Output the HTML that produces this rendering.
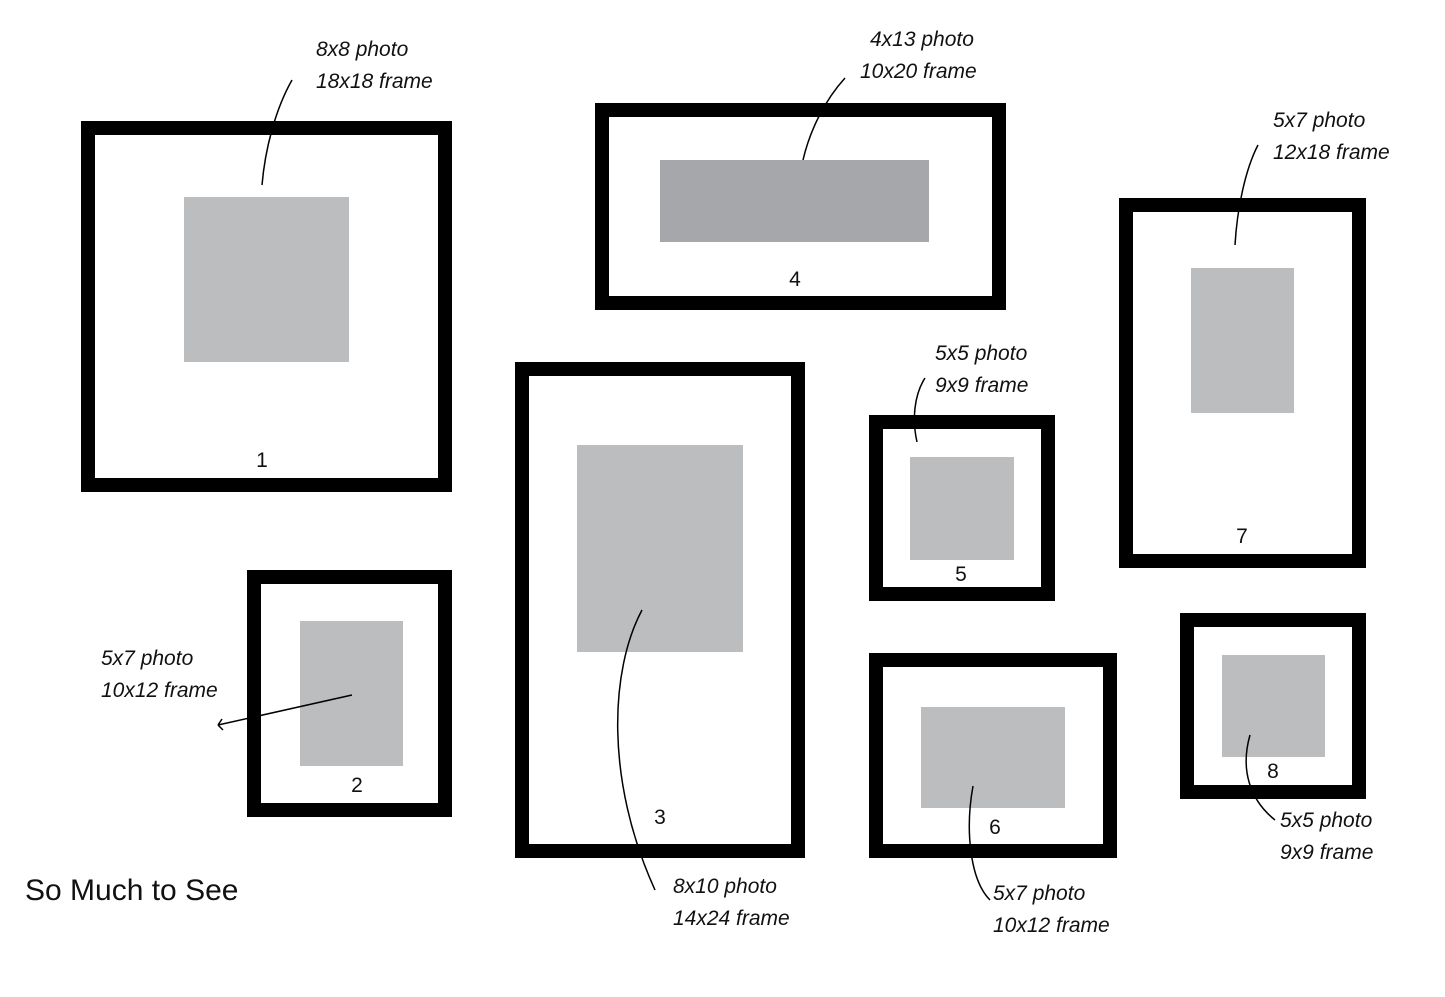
<!DOCTYPE html>
<html><head><meta charset="utf-8"><style>
html,body{margin:0;padding:0;background:#fff;}
svg{display:block}
text{font-family:"Liberation Sans","DejaVu Sans",sans-serif;font-style:italic;font-size:21px;fill:#111;}
.n{font-style:normal;font-size:21px;text-anchor:middle}
</style></head><body>
<svg width="1445" height="997" viewBox="0 0 1445 997" xmlns="http://www.w3.org/2000/svg">
<g fill="none" stroke="#000" stroke-width="14">
<rect x="88" y="128" width="357" height="357"/>
<rect x="602" y="110" width="397" height="193"/>
<rect x="1126" y="205" width="233" height="356"/>
<rect x="522" y="369" width="276" height="482"/>
<rect x="876" y="422" width="172" height="172"/>
<rect x="254" y="577" width="191" height="233"/>
<rect x="876" y="660" width="234" height="191"/>
<rect x="1187" y="620" width="172" height="172"/>
</g>
<g fill="#bcbdbf">
<rect x="184" y="197" width="165" height="165"/>
<rect x="660" y="160" width="269" height="82" fill="#a6a7aa"/>
<rect x="1191" y="268" width="103" height="145"/>
<rect x="577" y="445" width="166" height="207"/>
<rect x="910" y="457" width="104" height="103"/>
<rect x="300" y="621" width="103" height="145"/>
<rect x="921" y="707" width="144" height="101"/>
<rect x="1222" y="655" width="103" height="102"/>
</g>
<g fill="none" stroke="#000" stroke-width="1.5">
<path d="M292 80 C275 110 265 150 262 185"/>
<path d="M845 78 C825 100 810 130 803 160"/>
<path d="M1258 145 C1245 170 1237 210 1235 245"/>
<path d="M925 378 C914 395 912 420 917 442"/>
<path d="M352 695 L218 725 M218 725 l5 5 M218 725 l4 -6"/>
<path d="M642 610 C610 670 605 780 655 890"/>
<path d="M973 786 C965 830 970 880 990 900"/>
<path d="M1250 735 C1240 770 1250 800 1275 820"/>
</g>
<text x="316" y="56">8x8 photo</text><text x="316" y="88">18x18 frame</text>
<text x="870" y="46">4x13 photo</text><text x="860" y="78">10x20 frame</text>
<text x="1273" y="127">5x7 photo</text><text x="1273" y="159">12x18 frame</text>
<text x="935" y="360">5x5 photo</text><text x="935" y="392">9x9 frame</text>
<text x="101" y="665">5x7 photo</text><text x="101" y="697">10x12 frame</text>
<text x="673" y="893">8x10 photo</text><text x="673" y="925">14x24 frame</text>
<text x="993" y="900">5x7 photo</text><text x="993" y="932">10x12 frame</text>
<text x="1280" y="827">5x5 photo</text><text x="1280" y="859">9x9 frame</text>
<text class="n" x="262" y="467">1</text>
<text class="n" x="357" y="792">2</text>
<text class="n" x="660" y="824">3</text>
<text class="n" x="795" y="286">4</text>
<text class="n" x="961" y="581">5</text>
<text class="n" x="995" y="834">6</text>
<text class="n" x="1242" y="543">7</text>
<text class="n" x="1273" y="778">8</text>
<text x="25" y="900" style="font-size:30px;font-style:normal">So Much to See</text>
</svg>
</body></html>
